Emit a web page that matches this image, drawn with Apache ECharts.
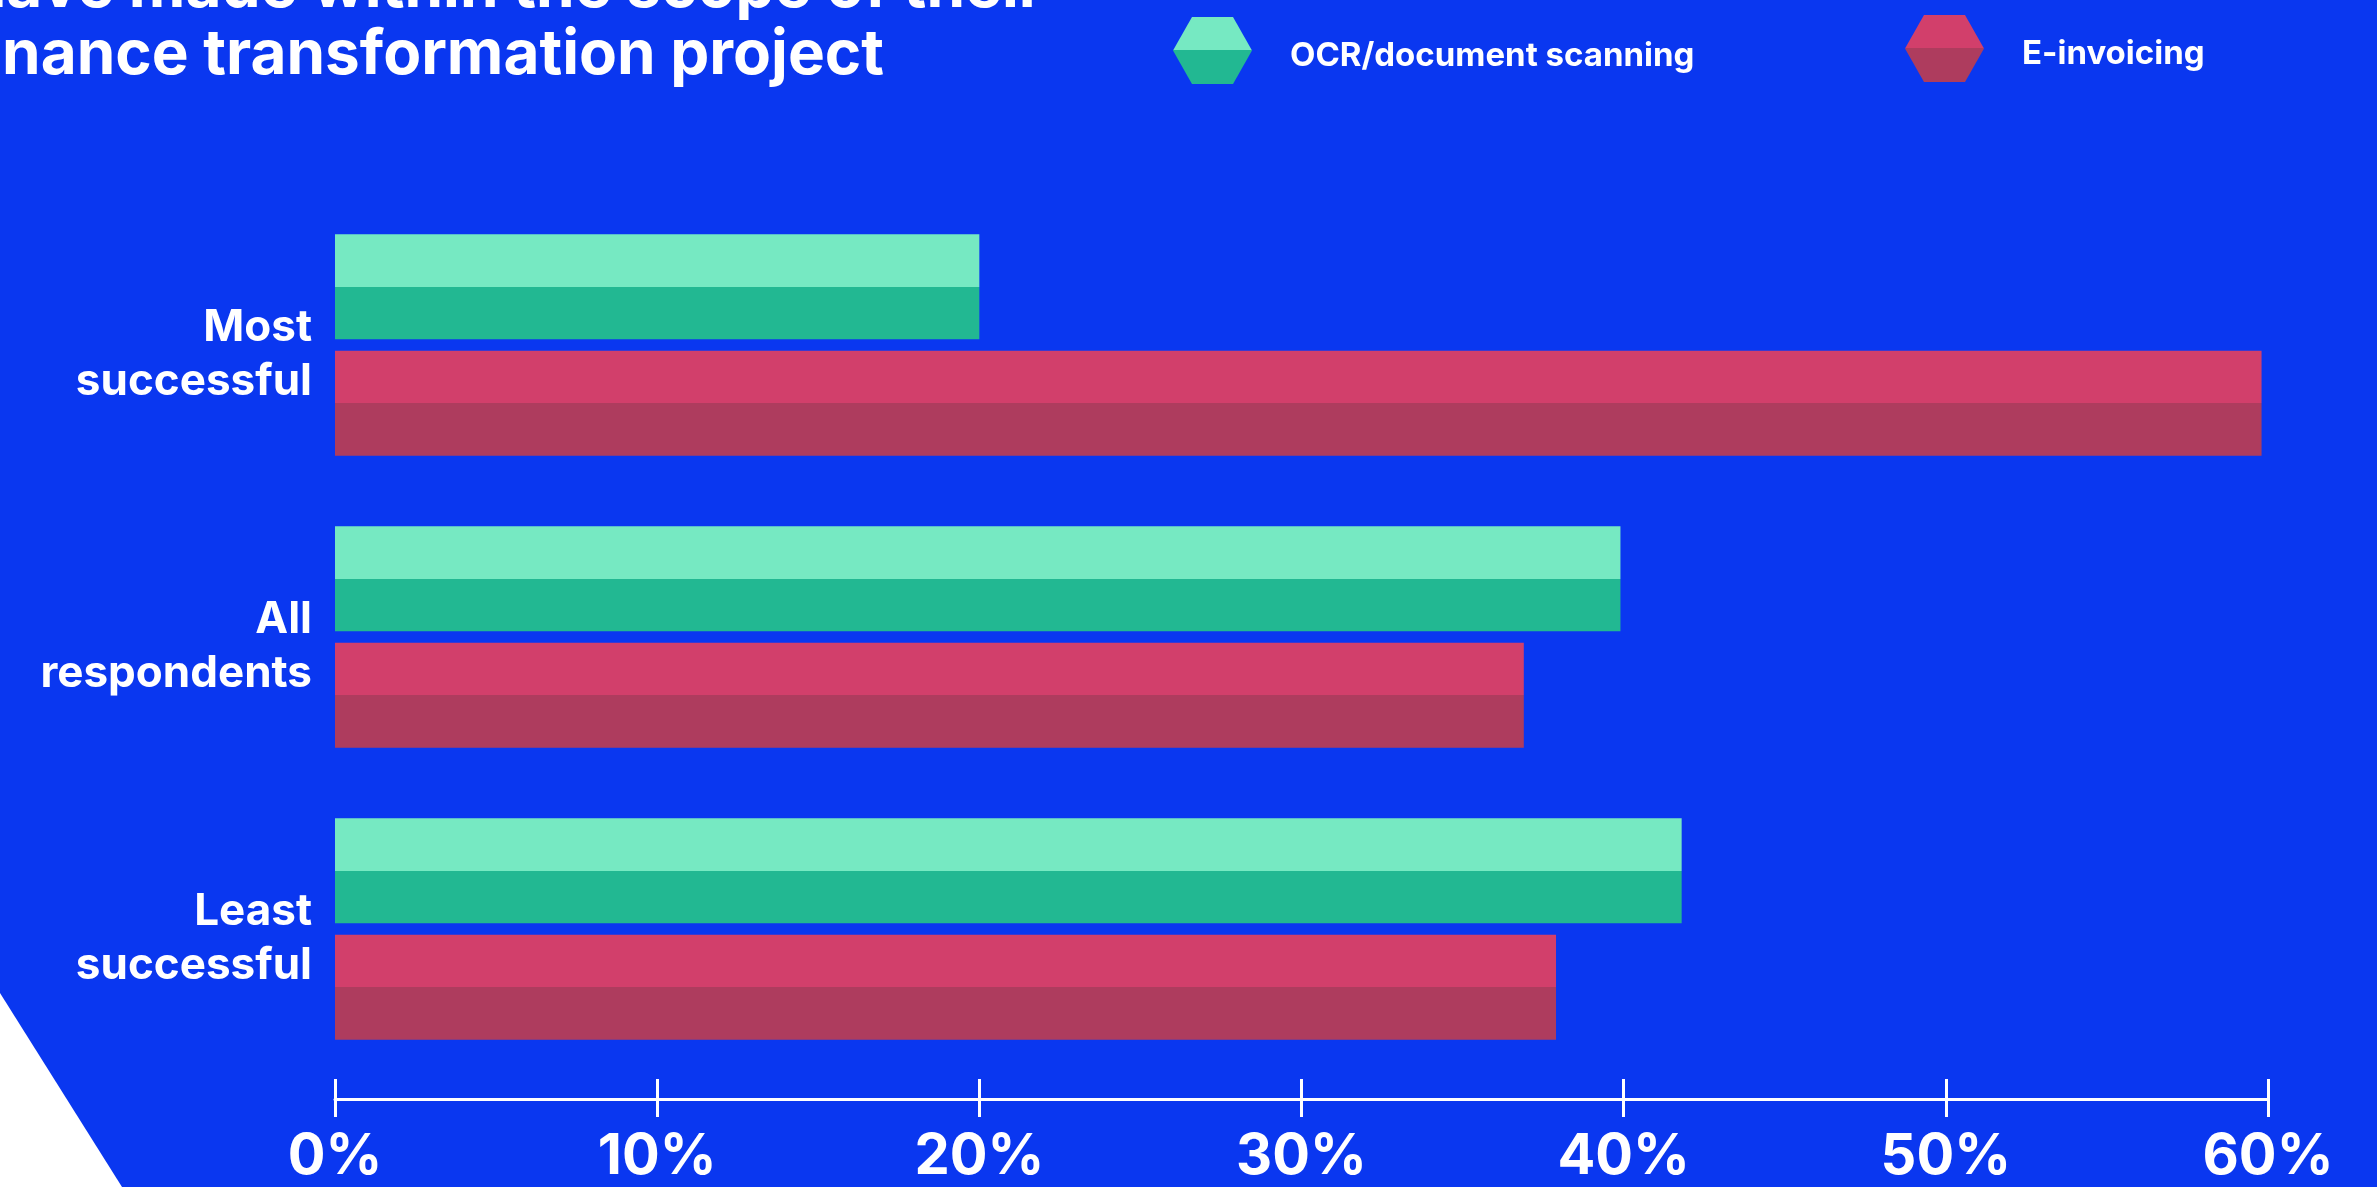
<!DOCTYPE html>
<html>
<head>
<meta charset="utf-8">
<script src="https://cdn.jsdelivr.net/npm/echarts@6/dist/echarts.min.js"></script>
<style>
html,body{margin:0;padding:0;background:#0A37F0;}
#chart{width:2377px;height:1187px;}
</style>
</head>
<body>
<div id="chart"></div>
<script>
var categories = ['Most\nsuccessful', 'All\nrespondents', 'Least\nsuccessful'];
var seriesNames = ['OCR/document scanning', 'E-invoicing'];
var ocrValues = [20.0, 39.9, 41.8];
var einvValues = [59.8, 36.9, 37.9];
var tickValues = [0, 10, 20, 30, 40, 50, 60];
var titleLines = ['have made within the scope of their', 'finance transformation project'];

var FONT = 'Inter';
function twoTone(light, dark) {
  return {
    type: 'linear', x: 0, y: 0, x2: 0, y2: 1,
    colorStops: [
      {offset: 0, color: light}, {offset: 0.5, color: light},
      {offset: 0.5, color: dark}, {offset: 1, color: dark}
    ]
  };
}
var greenFill = twoTone('#76E9C2', '#22B892');
var redFill = twoTone('#D23F6B', '#AE3C5E');
var hexIcon = 'path://M19,0 L60,0 L79,33.5 L60,67 L19,67 L0,33.5 Z';

var chart = echarts.init(document.getElementById('chart'));
var legendText = {
  color: '#FFFFFF', fontFamily: FONT, fontWeight: 'bold', fontSize: 33, padding: [0, 0, 0, 33],
  rich: {
    s: {fontSize: 1, lineHeight: 12},
    t: {color: '#FFFFFF', fontFamily: FONT, fontWeight: 'bold', fontSize: 33, lineHeight: 40}
  }
};
function legendFmt(name) { return '{s| }\n{t|' + name + '}'; }
chart.setOption({
  backgroundColor: '#0A37F0',
  animation: false,
  legend: [
    {data: [seriesNames[0]], left: 1168, top: 12, itemWidth: 79, itemHeight: 67, icon: hexIcon,
     textStyle: legendText, formatter: legendFmt, selectedMode: false},
    {data: [seriesNames[1]], left: 1900, top: 10, itemWidth: 79, itemHeight: 67, icon: hexIcon,
     textStyle: legendText, formatter: legendFmt, selectedMode: false}
  ],
  graphic: [
    {type: 'polygon', shape: {points: [[0, 993], [122, 1187], [0, 1187]]}, style: {fill: '#FFFFFF'}, silent: true},
    {type: 'text', x: 1044, y: -12, style: {text: titleLines[0], fill: '#FFFFFF', font: 'bold 62px ' + FONT, textAlign: 'right', textVerticalAlign: 'middle'}},
    {type: 'text', x: 884, y: 55, style: {text: titleLines[1], fill: '#FFFFFF', font: 'bold 62px ' + FONT, textAlign: 'right', textVerticalAlign: 'middle'}}
  ],
  grid: {left: 335, right: 109, top: 199, height: 876, containLabel: false},
  xAxis: [
    {type: 'value', min: 0, max: 60, interval: 10, position: 'bottom', offset: 24,
     axisLine: {show: true, lineStyle: {color: '#FFFFFF', width: 3}},
     axisTick: {show: true, inside: false, length: 18, lineStyle: {color: '#FFFFFF', width: 3}},
     splitLine: {show: false},
     axisLabel: {color: '#FFFFFF', fontFamily: FONT, fontWeight: 'bold', fontSize: 56, lineHeight: 56, margin: 30,
       customValues: tickValues, formatter: function (v) { return v + '%'; }}},
    {type: 'value', min: 0, max: 60, interval: 10, position: 'bottom', offset: 24,
     axisLine: {show: false},
     axisTick: {show: true, inside: true, length: 20, lineStyle: {color: '#FFFFFF', width: 3}},
     splitLine: {show: false}, axisLabel: {show: false}}
  ],
  yAxis: {
    type: 'category', data: categories, inverse: true,
    axisLine: {show: false}, axisTick: {show: false}, splitLine: {show: false},
    axisLabel: {
      align: 'right', margin: 23,
      formatter: function (v) {
        return '{s| }\n' + v.split('\n').map(function (p) { return '{t|' + p + '}'; }).join('\n');
      },
      rich: {
        s: {fontSize: 1, lineHeight: 20},
        t: {color: '#FFFFFF', fontFamily: FONT, fontWeight: 'bold', fontSize: 44, lineHeight: 54, align: 'right'}
      }
    }
  },
  series: [
    {name: seriesNames[0], type: 'bar', data: ocrValues, barWidth: 105, barGap: '11%',
     itemStyle: {color: greenFill}, xAxisIndex: 0},
    {name: seriesNames[1], type: 'bar', data: einvValues, barWidth: 105, barGap: '11%',
     itemStyle: {color: redFill}, xAxisIndex: 0}
  ]
});
</script>
</body>
</html>
